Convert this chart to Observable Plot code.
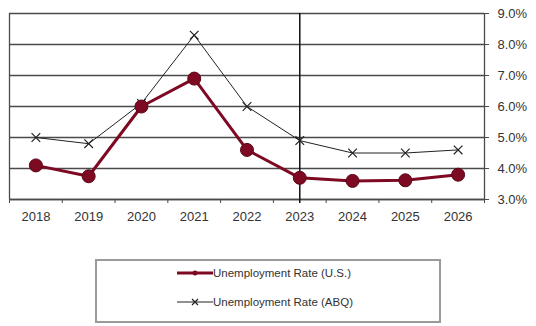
<!DOCTYPE html>
<html>
<head>
<meta charset="utf-8">
<script src="https://cdn.jsdelivr.net/npm/d3@7"></script>
<script src="https://cdn.jsdelivr.net/npm/@observablehq/plot@0.6"></script>
<style>
  html, body { margin: 0; padding: 0; background: #fff; }
  body { width: 536px; height: 326px; overflow: hidden; font-family: "Liberation Sans", Arial, sans-serif; }
  #legend {
    position: absolute; left: 95px; top: 259px; width: 342px; height: 60px;
    border: 2px solid #9a9a9a; box-sizing: content-box;
  }
  .item { position: absolute; left: 80px; display: flex; align-items: center; font-size: 11.5px; color: #333; }
  .item svg { display: block; }
</style>
</head>
<body>
<div id="chart"></div>
<div id="legend"></div>
<script>
const years = [2018, 2019, 2020, 2021, 2022, 2023, 2024, 2025, 2026];
const usRate = [4.1, 3.75, 6.0, 6.9, 4.6, 3.7, 3.6, 3.62, 3.8];
const abqRate = [5.0, 4.8, 6.1, 8.3, 6.0, 4.9, 4.5, 4.5, 4.6];
const yTicks = [3, 4, 5, 6, 7, 8, 9];
const markerYear = 2023;
const seriesNames = ["Unemployment Rate (U.S.)", "Unemployment Rate (ABQ)"];
const usColor = "#7d0a22";
const abqColor = "#222";

const us = years.map((y, i) => ({year: y, v: usRate[i]}));
const abq = years.map((y, i) => ({year: y, v: abqRate[i]}));
const edges = years.map(y => y - 0.5).concat([years[years.length - 1] + 0.5]);
const xMin = edges[0], xMax = edges[edges.length - 1];

const gridColor = "#4a4a4a";

const plot = Plot.plot({
  width: 536,
  height: 245,
  marginLeft: 9,
  marginRight: 52,
  marginTop: 13,
  marginBottom: 46,
  style: {fontFamily: "'Liberation Sans', Arial, sans-serif", fontSize: "13px", color: "#333", background: "#fff"},
  x: {type: "linear", domain: [xMin, xMax]},
  y: {type: "linear", domain: [3, 9]},
  marks: [
    Plot.gridY(yTicks, {stroke: gridColor, strokeOpacity: 1, strokeWidth: 1.3}),
    Plot.ruleX([xMin], {stroke: gridColor, strokeWidth: 1.3}),
    Plot.ruleX([xMax], {stroke: gridColor, strokeWidth: 1.3}),
    Plot.ruleY([3], {stroke: gridColor, strokeWidth: 1.3}),
    Plot.ruleX([markerYear], {y1: 9, y2: 3, insetBottom: -4, stroke: "#111", strokeWidth: 1.5}),
    Plot.axisY(yTicks, {anchor: "right", tickSize: 4, tickPadding: 9, stroke: gridColor, tickFormat: d => d.toFixed(1) + "%", label: null, fill: "#333"}),
    Plot.axisX(edges, {anchor: "bottom", tickSize: 4, tickFormat: () => "", label: null, stroke: gridColor}),
    Plot.axisX(years, {anchor: "bottom", tickSize: 0, tickPadding: 12, tickFormat: d => String(d), label: null, fill: "#333"}),
    Plot.line(abq, {x: "year", y: "v", stroke: abqColor, strokeWidth: 1}),
    Plot.dot(abq, {x: "year", y: "v", symbol: "times", r: 4, stroke: abqColor, strokeWidth: 1.2}),
    Plot.line(us, {x: "year", y: "v", stroke: usColor, strokeWidth: 3}),
    Plot.dot(us, {x: "year", y: "v", r: 6.5, fill: usColor, stroke: "#5a0616", strokeWidth: 1})
  ]
});
document.getElementById("chart").appendChild(plot);

// Legend
const legend = document.getElementById("legend");
function addItem(name, top, kind) {
  const div = document.createElement("div");
  div.className = "item";
  div.style.top = top + "px";
  const ns = "http://www.w3.org/2000/svg";
  const s = document.createElementNS(ns, "svg");
  s.setAttribute("width", 36); s.setAttribute("height", 12);
  const l = document.createElementNS(ns, "line");
  l.setAttribute("x1", 0); l.setAttribute("x2", 36); l.setAttribute("y1", 6); l.setAttribute("y2", 6);
  if (kind === "us") {
    l.setAttribute("stroke", usColor); l.setAttribute("stroke-width", 3);
    s.appendChild(l);
    const c = document.createElementNS(ns, "circle");
    c.setAttribute("cx", 18); c.setAttribute("cy", 6); c.setAttribute("r", 2.5); c.setAttribute("fill", usColor);
    s.appendChild(c);
  } else {
    l.setAttribute("stroke", abqColor); l.setAttribute("stroke-width", 1);
    s.appendChild(l);
    const p = document.createElementNS(ns, "path");
    p.setAttribute("d", "M15,3L21,9M21,3L15,9"); p.setAttribute("stroke", abqColor); p.setAttribute("stroke-width", 1.2);
    s.appendChild(p);
  }
  div.appendChild(s);
  const t = document.createElement("span");
  t.textContent = name;
  div.appendChild(t);
  legend.appendChild(div);
}
addItem(seriesNames[0], 6, "us");
addItem(seriesNames[1], 35, "abq");
</script>
</body>
</html>
